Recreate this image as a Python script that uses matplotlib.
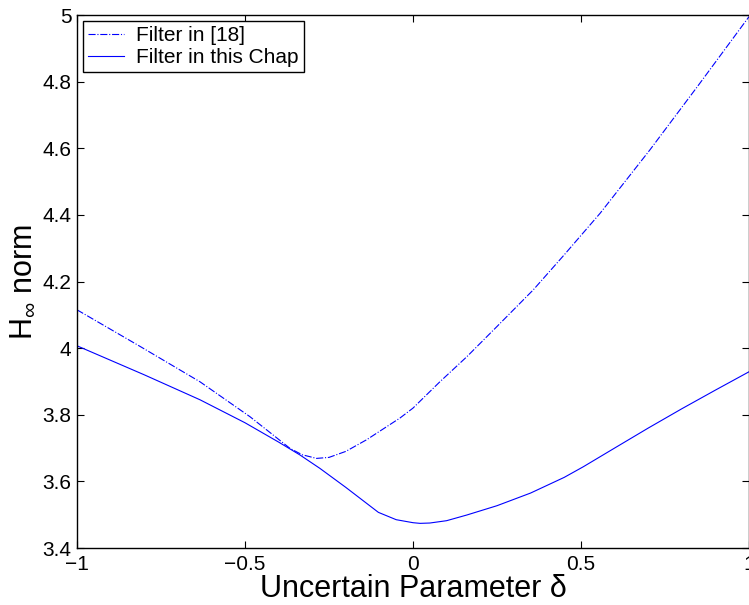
import matplotlib
matplotlib.use('Agg')
import matplotlib.pyplot as plt

plt.rcParams['font.family'] = ['Liberation Sans', 'DejaVu Sans']
plt.rcParams['mathtext.fontset'] = 'custom'
plt.rcParams['mathtext.rm'] = 'Liberation Sans'
plt.rcParams['mathtext.it'] = 'Liberation Sans'

# valeurs
delta_ref = [-1.0, -0.812, -0.634, -0.485, -0.416, -0.366, -0.33, -0.287, -0.25, -0.2,
             -0.138, -0.1, -0.039, 0.0, 0.08, 0.16, 0.25, 0.358, 0.45, 0.557, 0.705,
             0.85, 1.0]
filtre_ref = [4.115, 4.005, 3.899, 3.794, 3.739, 3.699, 3.68, 3.669, 3.672, 3.69,
              3.725, 3.75, 3.79, 3.82, 3.899, 3.974, 4.065, 4.175, 4.28, 4.405, 4.595,
              4.79, 4.995]

delta_chap = [-1.0, -0.8, -0.634, -0.5, -0.4, -0.336, -0.277, -0.2, -0.103, -0.05, 0.0,
              0.021, 0.05, 0.1, 0.16, 0.25, 0.35, 0.45, 0.507, 0.6, 0.7, 0.8, 0.9, 1.0]
filtre_chap = [4.007, 3.92, 3.845, 3.776, 3.718, 3.679, 3.639, 3.582, 3.507, 3.485, 3.476,
               3.474, 3.475, 3.482, 3.499, 3.527, 3.565, 3.612, 3.644, 3.70, 3.76, 3.818,
               3.874, 3.929]

fig = plt.figure(figsize=(7.49, 6.05), dpi=100)
ax = fig.add_axes([0.1028, 0.0942, 0.8972, 0.881])

ax.plot(delta_ref, filtre_ref, '-.', color='blue', linewidth=0.8, label='Filter in [18]')
ax.plot(delta_chap, filtre_chap, '-', color='blue', linewidth=0.8, label='Filter in this Chap')

ax.set_xlim(-1, 1)
ax.set_ylim(3.4, 5)
ax.set_xticks([-1, -0.5, 0, 0.5, 1])
ax.set_xticklabels(['\u22121', '\u22120.5', '0', '0.5', '1'])
ax.set_yticks([3.4, 3.6, 3.8, 4, 4.2, 4.4, 4.6, 4.8, 5])
ax.set_yticklabels(['3.4', '3.6', '3.8', '4', '4.2', '4.4', '4.6', '4.8', '5'])
ax.tick_params(direction='in', top=True, right=True, labelsize=15, length=5)
ax.tick_params(axis='x', pad=5)
ax.tick_params(axis='y', pad=4)
for s in ax.spines.values():
    s.set_linewidth(1.0)

ax.set_xlabel('Uncertain Parameter \u03b4', fontsize=22, labelpad=0)
ax.set_ylabel(r'H$_{\infty}$ norm', fontsize=22, labelpad=3)

leg = ax.legend(loc='upper left', fontsize=15, fancybox=False, framealpha=1,
                edgecolor='black', handlelength=1.7, handletextpad=0.6, borderpad=0.25,
                labelspacing=0.12, borderaxespad=0.3)
leg.get_frame().set_linewidth(1.0)

fig.savefig('out.png', dpi=100)
